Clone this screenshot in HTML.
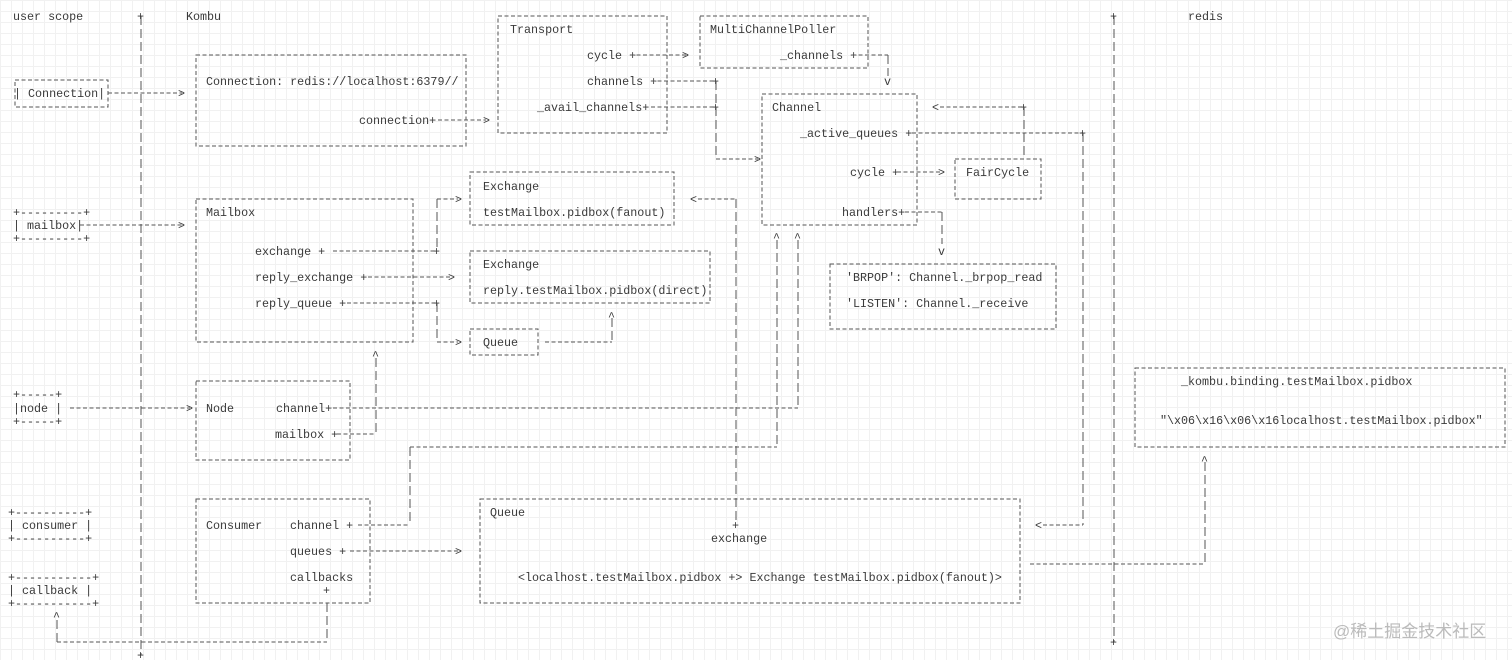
<!DOCTYPE html>
<html><head><meta charset="utf-8"><style>
html,body{margin:0;padding:0;background:#fff}
body{width:1512px;height:660px;overflow:hidden;position:relative;
background-image:linear-gradient(#f1f1f1 1px,transparent 1px),linear-gradient(90deg,#f1f1f1 1px,transparent 1px);background-size:11px 11px}
svg{position:absolute;left:0;top:0}
text{font-family:"Liberation Mono",monospace;font-size:11.7px;fill:#3a3a3a}
line,rect{stroke:#555;stroke-width:1;fill:none;stroke-dasharray:4 2.5}
line.v{stroke-dasharray:9 4}
.wm{font-family:"Liberation Sans","Noto Sans CJK SC",sans-serif;font-size:17px;fill:#bbb}
</style></head><body>
<svg width="1512" height="660" viewBox="0 0 1512 660">
<text x="13" y="20">user scope</text>
<text x="186" y="20">Kombu</text>
<text x="1188" y="20">redis</text>
<line class="v" x1="141" y1="16" x2="141" y2="655"/>
<text x="137" y="20">+</text><text x="137" y="659">+</text>
<line class="v" x1="1114" y1="16" x2="1114" y2="642"/>
<text x="1110" y="20">+</text><text x="1110" y="646">+</text>

<rect x="15" y="80" width="93" height="27"/>
<text x="14" y="97">| Connection|</text>
<line x1="108" y1="93" x2="182" y2="93"/><text x="178" y="97">&gt;</text>
<rect x="196" y="55" width="270" height="91"/>
<text x="206" y="85">Connection: redis://localhost:6379//</text>
<text x="359" y="124">connection+</text>
<line x1="438" y1="120" x2="486" y2="120"/><text x="483" y="124">&gt;</text>

<rect x="498" y="16" width="169" height="117"/>
<text x="510" y="33">Transport</text>
<text x="587" y="59">cycle +</text>
<line x1="630" y1="55" x2="686" y2="55"/><text x="682" y="59">&gt;</text>
<text x="587" y="85">channels +</text>
<line x1="651" y1="81" x2="716" y2="81"/><text x="712" y="85">+</text>
<text x="537" y="111">_avail_channels+</text>
<line x1="651" y1="107" x2="716" y2="107"/><text x="712" y="111">+</text>
<line class="v" x1="716" y1="81" x2="716" y2="159"/>
<line x1="716" y1="159" x2="758" y2="159"/><text x="754" y="163">&gt;</text>

<rect x="700" y="16" width="168" height="52"/>
<text x="710" y="33">MultiChannelPoller</text>
<text x="780" y="59">_channels +</text>
<line x1="852" y1="55" x2="888" y2="55"/>
<line class="v" x1="888" y1="55" x2="888" y2="76"/><text x="884" y="85">v</text>

<rect x="762" y="94" width="155" height="131"/>
<text x="772" y="111">Channel</text>
<text x="800" y="137">_active_queues +</text>
<line x1="912" y1="133" x2="1083" y2="133"/><text x="1079" y="137">+</text>
<text x="932" y="111">&lt;</text><line x1="940" y1="107" x2="1024" y2="107"/><text x="1020" y="111">+</text>
<line class="v" x1="1024" y1="107" x2="1024" y2="159"/>
<text x="850" y="176">cycle +</text>
<line x1="897" y1="172" x2="942" y2="172"/><text x="938" y="176">&gt;</text>
<rect x="955" y="159" width="86" height="40"/>
<text x="966" y="176">FairCycle</text>
<text x="842" y="216">handlers+</text>
<line x1="905" y1="212" x2="942" y2="212"/>
<line class="v" x1="942" y1="212" x2="942" y2="244"/><text x="938" y="255">v</text>
<line class="v" x1="1083" y1="133" x2="1083" y2="525"/>
<text x="1035" y="529">&lt;</text><line x1="1043" y1="525" x2="1083" y2="525"/>

<rect x="830" y="264" width="226" height="65"/>
<text x="846" y="281">'BRPOP': Channel._brpop_read</text>
<text x="846" y="307">'LISTEN': Channel._receive</text>

<rect x="470" y="172" width="204" height="53"/>
<text x="483" y="190">Exchange</text>
<text x="483" y="216">testMailbox.pidbox(fanout)</text>
<text x="690" y="203">&lt;</text><line x1="698" y1="199" x2="737" y2="199"/>
<line class="v" x1="736" y1="199" x2="736" y2="521"/>
<text x="732" y="529">+</text>

<text x="13" y="216">+---------+</text>
<text x="13" y="229">| mailbox|</text>
<text x="13" y="242">+---------+</text>
<line x1="80" y1="225" x2="182" y2="225"/><text x="178" y="229">&gt;</text>
<rect x="196" y="199" width="217" height="143"/>
<text x="206" y="216">Mailbox</text>
<text x="255" y="255">exchange  +</text>
<line x1="333" y1="251" x2="437" y2="251"/><text x="433" y="255">+</text>
<line class="v" x1="437" y1="199" x2="437" y2="251"/>
<line x1="437" y1="199" x2="458" y2="199"/><text x="455" y="203">&gt;</text>
<text x="255" y="281">reply_exchange +</text>
<line x1="368" y1="277" x2="451" y2="277"/><text x="448" y="281">&gt;</text>
<text x="255" y="307">reply_queue +</text>
<line x1="347" y1="303" x2="437" y2="303"/><text x="433" y="307">+</text>
<line class="v" x1="437" y1="303" x2="437" y2="342"/>
<line x1="437" y1="342" x2="458" y2="342"/><text x="455" y="346">&gt;</text>

<rect x="470" y="251" width="240" height="52"/>
<text x="483" y="268">Exchange</text>
<text x="483" y="294">reply.testMailbox.pidbox(direct)</text>
<text x="608" y="320">^</text>
<line class="v" x1="612" y1="318" x2="612" y2="342"/>
<rect x="470" y="329" width="68" height="26"/>
<text x="483" y="346">Queue</text>
<line x1="545" y1="342" x2="612" y2="342"/>

<text x="372" y="359">^</text>
<line class="v" x1="376" y1="358" x2="376" y2="434"/>
<text x="13" y="398">+-----+</text>
<text x="13" y="412">|node |</text>
<text x="13" y="425">+-----+</text>
<line x1="70" y1="408" x2="190" y2="408"/><text x="186" y="412">&gt;</text>
<rect x="196" y="381" width="154" height="79"/>
<text x="206" y="412">Node</text>
<text x="276" y="412">channel+</text>
<line x1="333" y1="408" x2="798" y2="408"/>
<text x="275" y="438">mailbox +</text>
<line x1="337" y1="434" x2="376" y2="434"/>
<text x="773" y="241">^</text><text x="794" y="241">^</text>
<line class="v" x1="777" y1="240" x2="777" y2="447"/>
<line class="v" x1="798" y1="240" x2="798" y2="408"/>
<line x1="410" y1="447" x2="777" y2="447"/>
<line class="v" x1="410" y1="447" x2="410" y2="525"/>

<text x="8" y="516">+----------+</text>
<text x="8" y="529">| consumer |</text>
<text x="8" y="542">+----------+</text>
<rect x="196" y="499" width="174" height="104"/>
<text x="206" y="529">Consumer</text>
<text x="290" y="529">channel  +</text>
<line x1="358" y1="525" x2="410" y2="525"/>
<text x="290" y="555">queues  +</text>
<line x1="350" y1="551" x2="458" y2="551"/><text x="455" y="555">&gt;</text>
<text x="290" y="581">callbacks</text>
<text x="323" y="594">+</text>
<line class="v" x1="327" y1="603" x2="327" y2="642"/>
<text x="8" y="581">+-----------+</text>
<text x="8" y="594">| callback  |</text>
<text x="8" y="607">+-----------+</text>
<text x="53" y="620">^</text>
<line class="v" x1="57" y1="620" x2="57" y2="642"/>
<line x1="57" y1="642" x2="327" y2="642"/>

<rect x="480" y="499" width="540" height="104"/>
<text x="490" y="516">Queue</text>
<text x="711" y="542">exchange</text>
<text x="518" y="581">&lt;localhost.testMailbox.pidbox +&gt; Exchange testMailbox.pidbox(fanout)&gt;</text>
<line x1="1030" y1="564" x2="1205" y2="564"/>
<line class="v" x1="1205" y1="462" x2="1205" y2="564"/><text x="1201" y="464">^</text>

<rect x="1135" y="368" width="370" height="79"/>
<text x="1181" y="385">_kombu.binding.testMailbox.pidbox</text>
<text x="1160" y="424">"\x06\x16\x06\x16localhost.testMailbox.pidbox"</text>

<text class="wm" x="1333" y="637">@稀土掘金技术社区</text>
</svg>
</body></html>
